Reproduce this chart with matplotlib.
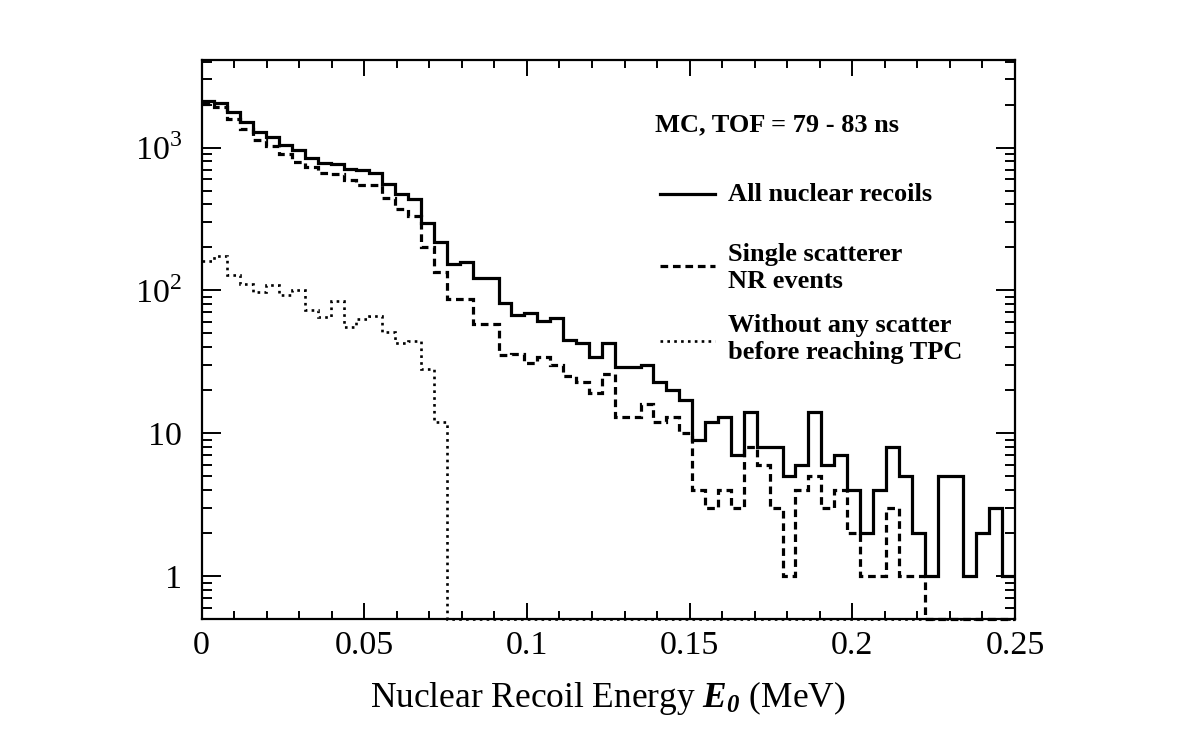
import numpy as np
import matplotlib
matplotlib.use('Agg')
import matplotlib.pyplot as plt
from matplotlib.ticker import FixedLocator, FixedFormatter, FormatStrFormatter, MultipleLocator

plt.rcParams['font.family'] = 'Liberation Serif'
plt.rcParams['mathtext.fontset'] = 'custom'
plt.rcParams['mathtext.rm'] = 'Liberation Serif'
plt.rcParams['mathtext.sf'] = 'Liberation Serif:bold:italic'
plt.rcParams['mathtext.bf'] = 'Liberation Serif:bold'

# 63 bins between 0 and 0.25 MeV
bin_edges = np.linspace(0, 0.25, 64)

all_nr = [2120, 2050, 1780, 1520, 1275, 1190, 1040, 968, 843, 782,
          765, 710, 698, 662, 553, 474, 435, 295, 218, 154,
          159, 122, 123, 82, 67, 69, 61, 64, 45, 43,
          34, 43, 29, 29, 30, 23, 20, 17, 9, 12,
          13, 7, 14, 8, 8, 5, 6, 14, 6, 7,
          4, 2, 4, 8, 5, 2, 1, 5, 5, 1,
          2, 3, 1]

single_nr = [2030, 1930, 1580, 1345, 1127, 1027, 899, 798, 725, 668,
             651, 590, 548, 548, 444, 374, 332, 201, 134, 87,
             87, 58, 58, 35, 36, 31, 34, 30, 25, 23,
             19, 26, 13, 13, 16, 12, 13, 10, 4, 3,
             4, 3, 8, 6, 3, 1, 4, 5, 3, 4,
             2, 1, 1, 3, 1, 1, 0, 0, 0, 0,
             0, 0, 0]

no_scatter = [161, 174, 128, 110, 98, 109, 93, 101, 73, 65,
              84, 55, 63, 66, 51, 43, 44, 28, 12] + [0] * 44

ymin, ymax = 0.5, 4100

def floor_zero(v):
    # empty bins sit on the bottom of the frame, like ROOT does
    v = np.asarray(v, dtype=float)
    return np.where(v > 0, v, ymin)

dash_style = (0, (2.4, 1.5))
dot_style = (0, (1, 1.6))

fig = plt.figure(figsize=(11.82, 7.55), dpi=100)
ax = fig.add_axes([0.1705, 0.1801, 0.6882, 0.7404])

ax.stairs(floor_zero(all_nr), bin_edges, baseline=None, color='black',
          linewidth=2.3, clip_on=False)
ax.stairs(floor_zero(single_nr), bin_edges, baseline=None, color='black',
          linewidth=2.3, linestyle=dash_style, clip_on=False)
ax.stairs(floor_zero(no_scatter), bin_edges, baseline=None, color='black',
          linewidth=1.9, linestyle=dot_style, clip_on=False)

ax.set_yscale('log')
ax.set_xlim(0, 0.25)
ax.set_ylim(ymin, ymax)

ax.xaxis.set_major_locator(MultipleLocator(0.05))
ax.xaxis.set_minor_locator(MultipleLocator(0.01))
ax.xaxis.set_major_formatter(FormatStrFormatter('%g'))

ax.yaxis.set_major_locator(FixedLocator([1, 10, 100, 1000]))
ax.yaxis.set_major_formatter(FixedFormatter(['1', '10', '$10^2$', '$10^3$']))
minors = [m * 10.0 ** e for e in range(-1, 4) for m in range(2, 10)]
ax.yaxis.set_minor_locator(FixedLocator(minors))
ax.yaxis.set_minor_formatter(FixedFormatter([''] * len(minors)))

ax.tick_params(axis='both', which='both', direction='in', top=True, right=True,
               width=1.4, labelsize=24.5)
ax.tick_params(axis='x', which='major', length=11.5, pad=8)
ax.tick_params(axis='x', which='minor', length=6)
ax.tick_params(axis='y', which='major', length=14, pad=14)
ax.tick_params(axis='y', which='minor', length=7)
for s in ax.spines.values():
    s.set_linewidth(1.6)

ax.set_xlabel(r'Nuclear Recoil Energy $\mathsf{E_0}$ (MeV)', fontsize=25.5, labelpad=13)

# legend drawn by hand, ROOT style
txt = dict(transform=ax.transAxes, fontsize=19, fontweight='bold', va='center', ha='left')
ax.text(0.5574, 0.8837, 'MC, TOF = 79 - 83 ns', **txt)
ax.plot([0.5636, 0.6312], [0.7603, 0.7603], transform=ax.transAxes,
        color='black', linewidth=2.3)
ax.text(0.647, 0.7603, 'All nuclear recoils', **txt)
ax.plot([0.5636, 0.6312], [0.6315, 0.6315], transform=ax.transAxes,
        color='black', linewidth=2.3, linestyle=dash_style)
ax.text(0.647, 0.628, 'Single scatterer\nNR events', **txt)
ax.plot([0.5636, 0.6312], [0.4973, 0.4973], transform=ax.transAxes,
        color='black', linewidth=1.9, linestyle=dot_style)
ax.text(0.647, 0.501, 'Without any scatter\nbefore reaching TPC', **txt)

fig.savefig('out.png', dpi=100)
